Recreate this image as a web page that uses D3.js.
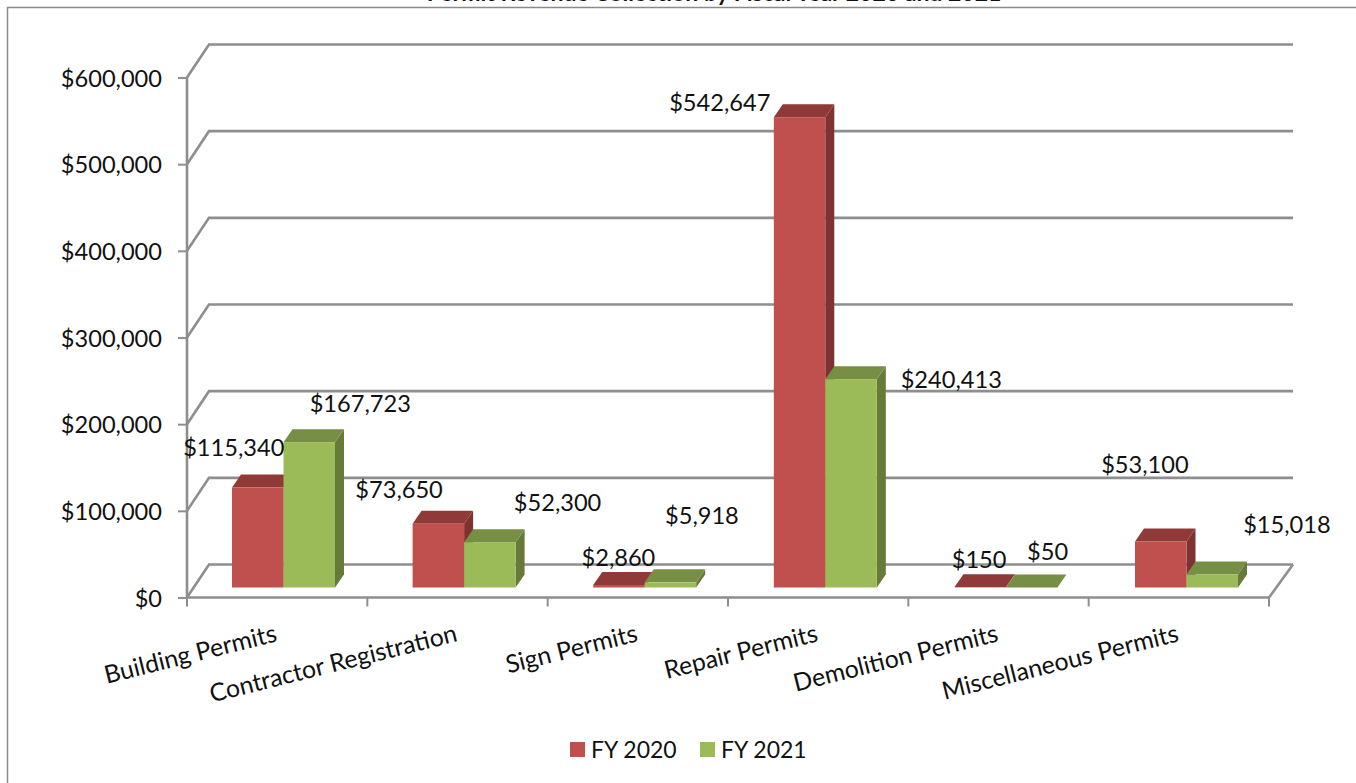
<!DOCTYPE html>
<html>
<head>
<meta charset="utf-8">
<title>Permit Revenue</title>
<script src="https://cdn.jsdelivr.net/npm/d3@7/dist/d3.min.js"></script>
<style>
  html, body { margin: 0; padding: 0; background: #fff; overflow: hidden; }
  svg { display: block; }
  text { font-family: Lato, "Open Sans", sans-serif; fill: #111; }
</style>
</head>
<body>
<svg id="chart" width="1356" height="783"></svg>
<script>
// Chart values
const categories = ["Building Permits", "Contractor Registration", "Sign Permits",
                    "Repair Permits", "Demolition Permits", "Miscellaneous Permits"];
const fy2020 = [115340, 73650, 2860, 542647, 150, 53100];
const fy2021 = [167723, 52300, 5918, 240413, 50, 15018];
const seriesNames = ["FY 2020", "FY 2021"];
const yTicks = [0, 100000, 200000, 300000, 400000, 500000, 600000];

// Hand placement of each value label, relative to the top of its bar
const offset2020 = [[-24, -40], [-39, -34], [0, -28], [-79, -15], [0, -28], [-14.5, -77]];
const offset2021 = [[51, -39], [68, -40], [32, -67], [101, 0], [17, -36], [76, -50]];

const palette = [
  { front: "#C0504D", top: "#8F3A38", side: "#7F3331" },
  { front: "#9BBB59", top: "#778F45", side: "#667A3A" }
];
const gridColor = "#8E8E8E";

const svg = d3.select("#chart");
const money = d3.format("$,");

// Frame geometry of the pseudo-3D plot
const plot = { left: 187, right: 1269, front: 597.5, top: 77.5, depthX: 22, depthY: -33 };
const barDepth = { x: 9, y: -13 };
const barBaseLift = 10;

const x = d3.scaleBand().domain(categories).range([plot.left, plot.right]);
// Bars stand on the floor plane, which runs slightly wider than the front edge
const xBars = d3.scaleBand().domain(categories).range([plot.left, plot.right + 1.6]);
const y = d3.scaleLinear().domain([0, 600000]).range([plot.front, plot.top]);
const barWidth = 51.5;
const barInset = 45;

// Outer chart border, open on the right and bottom
svg.append("path")
  .attr("d", "M7.5,783V7.5H1356")
  .attr("fill", "none").attr("stroke", "#8A8A8A").attr("stroke-width", 1.5);

// Title, mostly above the top of the page
svg.append("text")
  .attr("x", 714).attr("y", 1)
  .attr("text-anchor", "middle")
  .style("font-size", "23px").style("font-weight", 700)
  .text("Permit Revenue Collection by Fiscal Year 2020 and 2021");

// Back wall gridlines with their floor-to-wall diagonals
const walls = svg.append("g").attr("fill", "none")
  .attr("stroke", gridColor).attr("stroke-width", 2.6);
walls.selectAll("path.grid").data(yTicks).join("path")
  .attr("class", "grid")
  .attr("d", v => `M${plot.left},${y(v)}L${plot.left + plot.depthX},${y(v) + plot.depthY}H${plot.right + 24}`);
walls.append("path")
  .attr("d", `M${plot.right},${plot.front}L${plot.right + 24},${plot.front + plot.depthY}`);

// Value axis
const yAxis = svg.append("g")
  .attr("transform", `translate(${plot.left},0)`)
  .call(d3.axisLeft(y).tickValues(yTicks).tickFormat(money).tickSize(9).tickPadding(16));
yAxis.select(".domain").remove();
yAxis.selectAll("line").attr("stroke", gridColor).attr("stroke-width", 2);
yAxis.selectAll("text").style("font-size", "23.6px").style("font-family", "Lato").attr("fill", "#111").attr("dy", "0.36em");
svg.append("path")
  .attr("d", `M${plot.left},${plot.top}V${plot.front}H${plot.right}`)
  .attr("fill", "none").attr("stroke", gridColor).attr("stroke-width", 2.6);

// Category axis ticks fall on band boundaries
const edges = categories.map(c => x(c)).concat(plot.right);
svg.append("g").selectAll("line").data(edges).join("line")
  .attr("x1", d => d).attr("x2", d => d)
  .attr("y1", plot.front).attr("y2", plot.front + 9)
  .attr("stroke", gridColor).attr("stroke-width", 2);

// Slanted category labels
svg.append("g").selectAll("text").data(categories).join("text")
  .attr("text-anchor", "end")
  .attr("transform", c => `translate(${x(c) + x.bandwidth() / 2 + 1},641) rotate(-14)`)
  .style("font-size", "24.8px")
  .text(c => c);

// Bars: front face plus top and side parallelograms
function drawBar(g, bx, v, colors) {
  const base = y(0) - barBaseLift;
  const top = y(v) - barBaseLift;
  const dx = barDepth.x, dy = barDepth.y;
  g.append("path")
    .attr("d", `M${bx + barWidth},${top}l${dx},${dy}V${base + dy}l${-dx},${-dy}Z`)
    .attr("fill", colors.side);
  g.append("path")
    .attr("d", `M${bx},${top}l${dx},${dy}h${barWidth}l${-dx},${-dy}Z`)
    .attr("fill", colors.top);
  g.append("rect")
    .attr("x", bx).attr("y", top)
    .attr("width", barWidth).attr("height", base - top)
    .attr("fill", colors.front);
}

const seriesValues = [fy2020, fy2021];
const bars = svg.append("g");
categories.forEach((c, i) => {
  seriesValues.forEach((vals, s) => {
    drawBar(bars, xBars(c) + barInset + s * barWidth, vals[i], palette[s]);
  });
});

// Value labels
const seriesOffsets = [offset2020, offset2021];
const labels = svg.append("g");
categories.forEach((c, i) => {
  seriesValues.forEach((vals, s) => {
    const [ox, oy] = seriesOffsets[s][i];
    labels.append("text")
      .attr("x", x(c) + barInset + s * barWidth + barWidth / 2 + ox)
      .attr("y", y(vals[i]) - barBaseLift + oy)
      .attr("dy", "0.36em")
      .attr("text-anchor", "middle")
      .style("font-size", "23.6px")
      .text(money(vals[i]));
  });
});

// Legend
const legendX = [570, 700];
const legend = svg.append("g");
seriesNames.forEach((name, s) => {
  legend.append("rect")
    .attr("x", legendX[s]).attr("y", 742)
    .attr("width", 15).attr("height", 15)
    .attr("fill", palette[s].front);
  legend.append("text")
    .attr("x", legendX[s] + 21).attr("y", 749.5)
    .attr("dy", "0.36em")
    .style("font-size", "23px")
    .text(name);
});
</script>
</body>
</html>
